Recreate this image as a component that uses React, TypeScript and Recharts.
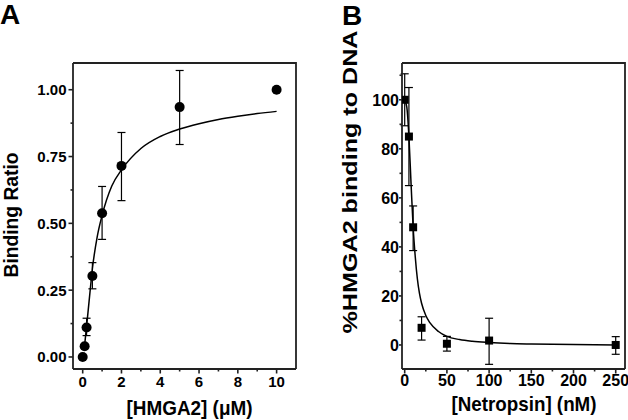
import { ComposedChart, Scatter, Line, XAxis, YAxis, ErrorBar } from 'recharts'

const FONT = '"Liberation Sans", Arial, sans-serif'
const AXIS = '#222'

// panel A: binding ratio vs [HMGA2] (uM)
const hmgaConc = [0, 0.1, 0.2, 0.5, 1, 2, 5, 10]
const bindingRatio = [0, 0.04, 0.11, 0.303, 0.538, 0.715, 0.935, 1.0]
const bindingLow = [0, 0.04, 0.08, 0.255, 0.44, 0.585, 0.795, 1.0]
const bindingHigh = [0, 0.04, 0.145, 0.353, 0.638, 0.84, 1.072, 1.0]
const fitAX = [0.08, 0.15, 0.2, 0.25, 0.4, 0.5, 0.75, 1, 1.5, 2, 3, 4, 5, 6, 7, 8, 9, 10]
const fitAY = [0.03, 0.08, 0.115, 0.15, 0.26, 0.33, 0.45, 0.53, 0.64, 0.7, 0.78, 0.825, 0.853, 0.873, 0.889, 0.901, 0.911, 0.919]
const aXMajor = [0, 2, 4, 6, 8, 10]
const aXMinor = [1, 3, 5, 7, 9]
const aYMajor = [0, 0.25, 0.5, 0.75, 1.0]
const aYMinor = [0.125, 0.375, 0.625, 0.875]

// panel B: % HMGA2 bound vs [Netropsin] (nM)
const netConc = [0, 5, 10, 20, 50, 100, 250]
const pctBound = [100, 85, 48, 7, 0.5, 1.8, 0]
const pctLow = [89.4, 65, 38.5, 2, -2.5, -7.9, -3.8]
const pctHigh = [110.6, 105, 56.7, 11.5, 3.5, 10.9, 3.4]
const fitBX = [0, 2.5, 5, 7.5, 10, 12.5, 15, 17.5, 20, 25, 30, 40, 50, 65, 80, 100, 125, 150, 200, 250]
const fitBY = [100, 97, 85, 66, 48, 36, 27, 21, 17, 12, 9, 5.5, 3.5, 2.2, 1.5, 1.0, 0.6, 0.4, 0.15, 0]
const bXMajor = [0, 50, 100, 150, 200, 250]
const bXMinor = [25, 75, 125, 175, 225]
const bYMajor = [0, 20, 40, 60, 80, 100]
const bYMinor = [10, 30, 50, 70, 90, 110]

const toPoints = (xs: number[], ys: number[], lo: number[], hi: number[]) =>
  xs.map((x, i) => ({ x, y: ys[i], err: [ys[i] - lo[i], hi[i] - ys[i]] }))
const toLine = (xs: number[], ys: number[]) => xs.map((x, i) => ({ x, y: ys[i] }))

// major ticks get a label, minor ones only a short mark
function AxisTick(props: any) {
  const { x, y, payload, side, majors, fmt, fontSize, majorLen, minorLen, gap } = props
  const v = payload.value
  const isMajor = majors.some((m: number) => Math.abs(m - v) < 1e-9)
  const len = isMajor ? majorLen : minorLen
  const textStyle = { fontFamily: FONT, fontWeight: 700, fontSize, fill: '#000' }
  if (side === 'left') {
    return (
      <g>
        <line x1={x - len} x2={x} y1={y} y2={y} stroke={AXIS} strokeWidth={1.6} />
        {isMajor && (
          <text x={x - majorLen - gap} y={y} dy="0.36em" textAnchor="end" style={textStyle}>
            {fmt(v)}
          </text>
        )}
      </g>
    )
  }
  return (
    <g>
      <line x1={x} x2={x} y1={y} y2={y + len} stroke={AXIS} strokeWidth={1.6} />
      {isMajor && (
        <text x={x} y={y + gap} textAnchor="middle" style={textStyle}>
          {fmt(v)}
        </text>
      )}
    </g>
  )
}

function Panel(p: any) {
  const m = p.margin
  return (
    <ComposedChart
      width={314}
      height={420}
      margin={{ top: m.top, right: m.right, bottom: m.bottom - 30, left: m.left - 40 }}
    >
      <XAxis
        dataKey="x"
        type="number"
        domain={p.xDomain}
        allowDataOverflow
        ticks={[...p.xMajor, ...p.xMinor]}
        interval={0}
        height={30}
        tickSize={0}
        tickMargin={0}
        tickLine={false}
        axisLine={{ stroke: AXIS, strokeWidth: 1.8 }}
        tick={(t: any) => (
          <AxisTick {...t} side="bottom" majors={p.xMajor} fmt={(v: number) => String(v)}
            fontSize={p.tickFont} majorLen={4.5} minorLen={2.5} gap={p.xGap} />
        )}
      />
      <YAxis
        dataKey="y"
        type="number"
        domain={p.yDomain}
        allowDataOverflow
        ticks={[...p.yMajor, ...p.yMinor]}
        interval={0}
        width={40}
        tickSize={0}
        tickMargin={0}
        tickLine={false}
        axisLine={{ stroke: AXIS, strokeWidth: 1.8 }}
        tick={(t: any) => (
          <AxisTick {...t} side="left" majors={p.yMajor} fmt={p.yFmt}
            fontSize={p.tickFont} majorLen={p.yTickLen} minorLen={2.5} gap={p.yGap} />
        )}
      />
      <Line data={p.fit} dataKey="y" type="monotone" stroke="#000" strokeWidth={1.5}
        dot={false} activeDot={false} isAnimationActive={false} />
      <Scatter data={p.points} dataKey="y" isAnimationActive={false} shape={p.shape}>
        <ErrorBar dataKey="err" direction="y" width={4} stroke="#000" strokeWidth={1.2}
          isAnimationActive={false} />
      </Scatter>
    </ComposedChart>
  )
}

const circle = (s: any) => <circle cx={s.cx} cy={s.cy} r={5} fill="#000" />
const square = (s: any) => <rect x={s.cx - 4} y={s.cy - 4} width={8} height={8} fill="#000" />

export default function App() {
  const title = { fontFamily: FONT, fontWeight: 700, fill: '#000' }
  return (
    <div style={{ position: 'absolute', left: 0, top: 0, width: 628, height: 420, background: '#fff', overflow: 'hidden' }}>
      <div style={{ position: 'absolute', left: 0, top: 0 }}>
        <Panel
          margin={{ top: 63, right: 18, bottom: 51, left: 73 }}
          xDomain={[-0.5, 11]}
          yDomain={[-0.045, 1.1]}
          xMajor={aXMajor}
          xMinor={aXMinor}
          yMajor={aYMajor}
          yMinor={aYMinor}
          yFmt={(v: number) => v.toFixed(2)}
          tickFont={15}
          xGap={18}
          yGap={2}
          yTickLen={4.5}
          fit={toLine(fitAX, fitAY)}
          points={toPoints(hmgaConc, bindingRatio, bindingLow, bindingHigh)}
          shape={circle}
        />
      </div>
      <div style={{ position: 'absolute', left: 314, top: 0 }}>
        <Panel
          margin={{ top: 63, right: 3, bottom: 51, left: 88 }}
          xDomain={[-3.2, 261]}
          yDomain={[-9.8, 115]}
          xMajor={bXMajor}
          xMinor={bXMinor}
          yMajor={bYMajor}
          yMinor={bYMinor}
          yFmt={(v: number) => String(v)}
          tickFont={16}
          xGap={17}
          yGap={0}
          yTickLen={3}
          fit={toLine(fitBX, fitBY)}
          points={toPoints(netConc, pctBound, pctLow, pctHigh)}
          shape={square}
        />
      </div>
      <svg width={628} height={420} style={{ position: 'absolute', left: 0, top: 0, pointerEvents: 'none' }}>
        {/* top and right edges of each plot box */}
        <polyline points="73,63 296,63 296,369" fill="none" stroke={AXIS} strokeWidth={1.8} />
        <polyline points="402,63 625,63 625,369" fill="none" stroke={AXIS} strokeWidth={1.8} />
        <text x={0} y={24} fontSize={28} style={title}>A</text>
        <text x={342} y={25} fontSize={28} style={title}>B</text>
        <text x={189.5} y={415} fontSize={21} textAnchor="middle" textLength={126}
          lengthAdjust="spacingAndGlyphs" style={title}>[HMGA2] (μM)</text>
        <text x={524} y={411} fontSize={21} textAnchor="middle" textLength={145}
          lengthAdjust="spacingAndGlyphs" style={title}>[Netropsin] (nM)</text>
        <text transform="translate(18,215) rotate(-90)" fontSize={20} textAnchor="middle" textLength={125}
          lengthAdjust="spacingAndGlyphs" style={title}>Binding Ratio</text>
        <text transform="translate(357,182) rotate(-90)" fontSize={21} textAnchor="middle" textLength={303}
          lengthAdjust="spacingAndGlyphs" style={title}>%HMGA2 binding to DNA</text>
      </svg>
    </div>
  )
}
